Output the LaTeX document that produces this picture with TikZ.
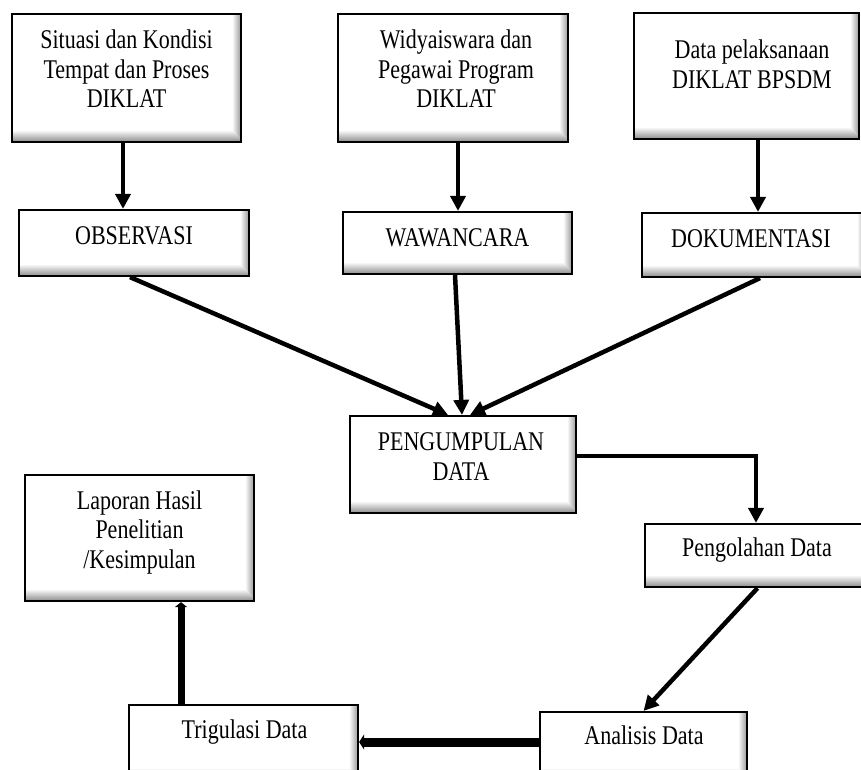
\documentclass[tikz,border=0pt]{standalone}
\usepackage{fontspec}
\setmainfont{Liberation Serif}[FakeStretch=0.815]
\usetikzlibrary{arrows.meta,calc}
\tikzset{
  box/.style={draw=black, line width=2.2pt, fill=white, inner sep=0pt,
    path picture={
      \foreach \i in {1,...,11}{
        \pgfmathsetmacro\c{3.8*\i}
        \fill[black!\c] ([yshift={(12-\i)*1pt}]path picture bounding box.south west)
           rectangle ([yshift={(11-\i)*1pt}]path picture bounding box.south east);
      }
      \foreach \i in {1,...,8}{
        \pgfmathsetmacro\c{4.5*\i}
        \fill[black!\c] ([xshift={(\i-9)*1pt}]path picture bounding box.north east)
           rectangle ([xshift={(\i-8)*1pt},yshift={(12-\i)*1pt}]path picture bounding box.south east);
      }
    }},
  txt/.style={align=center, inner sep=0pt, font=\fontsize{27}{29.5}\selectfont},
  arr/.style={line width=4.5pt, -{Triangle[width=15pt,length=15pt]}},
  arrthick/.style={line width=9pt, -{Triangle[width=15pt,length=5pt]}},
  arrup/.style={line width=7pt, -{Triangle[width=12pt,length=5pt]}}
}
\begin{document}
\begin{tikzpicture}[x=1pt,y=-1pt]
\fill[white] (0,0) rectangle (861,769);
\useasboundingbox (0,0) rectangle (861,769);

% boxes
\node[box, minimum width=229pt, minimum height=128pt] (b1) at (126.5,78) {};
\node[box, minimum width=230pt, minimum height=128pt] (b2) at (453,78) {};
\node[box, minimum width=225pt, minimum height=126pt] (b3) at (746.5,76) {};
\node[box, minimum width=230pt, minimum height=66pt] (obs) at (134,243) {};
\node[box, minimum width=229pt, minimum height=62pt] (waw) at (457.5,243) {};
\node[box, minimum width=224pt, minimum height=64pt] (dok) at (754,245) {};
\node[box, minimum width=226pt, minimum height=97pt] (pen) at (463,464.5) {};
\node[box, minimum width=225pt, minimum height=63pt] (olah) at (757.5,555.5) {};
\node[box, minimum width=229pt, minimum height=126pt] (lap) at (139.5,538) {};
\node[box, minimum width=229pt, minimum height=75pt] (tri) at (243.5,742.5) {};
\node[box, minimum width=207pt, minimum height=68pt] (ana) at (643.5,746) {};

% texts
\node[txt] (t1) at (126.5,69) {Situasi dan Kondisi\\Tempat dan Proses\\DIKLAT};
\node[txt] (t2) at (456,69) {Widyaiswara dan\\Pegawai Program\\DIKLAT};
\node[txt] (t3) at (752,64.5) {Data pelaksanaan\\DIKLAT BPSDM};
\node[txt] (tobs) at (134,236) {OBSERVASI};
\node[txt] (twaw) at (457.5,237.5) {WAWANCARA};
\node[txt] (tdok) at (751,238.5) {DOKUMENTASI};
\node[txt] (tpen) at (461,456.5) {PENGUMPULAN\\DATA};
\node[txt] (tolah) at (757,550) {Pengolahan Data};
\node[txt] (tlap) at (139.5,532) {Laporan Hasil\\Penelitian\\/Kesimpulan};
\node[txt] (ttri) at (244.5,732) {Trigulasi Data};
\node[txt] (tana) at (644,735) {Analisis Data};

% connectors
\draw[arr] ([xshift=-3.5pt]b1.south) -- ([xshift=-3.5pt]b1.south |- obs.north);
\draw[arr] ([xshift=5pt]b2.south) -- ([xshift=5pt]b2.south |- waw.north);
\draw[arr] ([xshift=11.5pt]b3.south) -- ([xshift=11.5pt]b3.south |- dok.north);
\draw[arr] ([xshift=-4pt]obs.south) -- ([xshift=-15pt]pen.north);
\draw[arr] ([xshift=-2.5pt]waw.south) -- ([xshift=-1pt]pen.north);
\draw[arr] ([xshift=6pt]dok.south) -- ([xshift=7pt]pen.north);
\draw[arr] ([yshift=8.5pt]pen.east) -| ([xshift=-1.5pt]olah.north);
\draw[arr] (olah.south) -- (ana.north);
\draw[arrthick] ([yshift=4pt]ana.west) -- ([yshift=4pt]ana.west -| tri.east);
\draw[arrup] ([xshift=-62.5pt]tri.north) -- ([xshift=-62.5pt]tri.north |- lap.south);
\end{tikzpicture}
\end{document}
